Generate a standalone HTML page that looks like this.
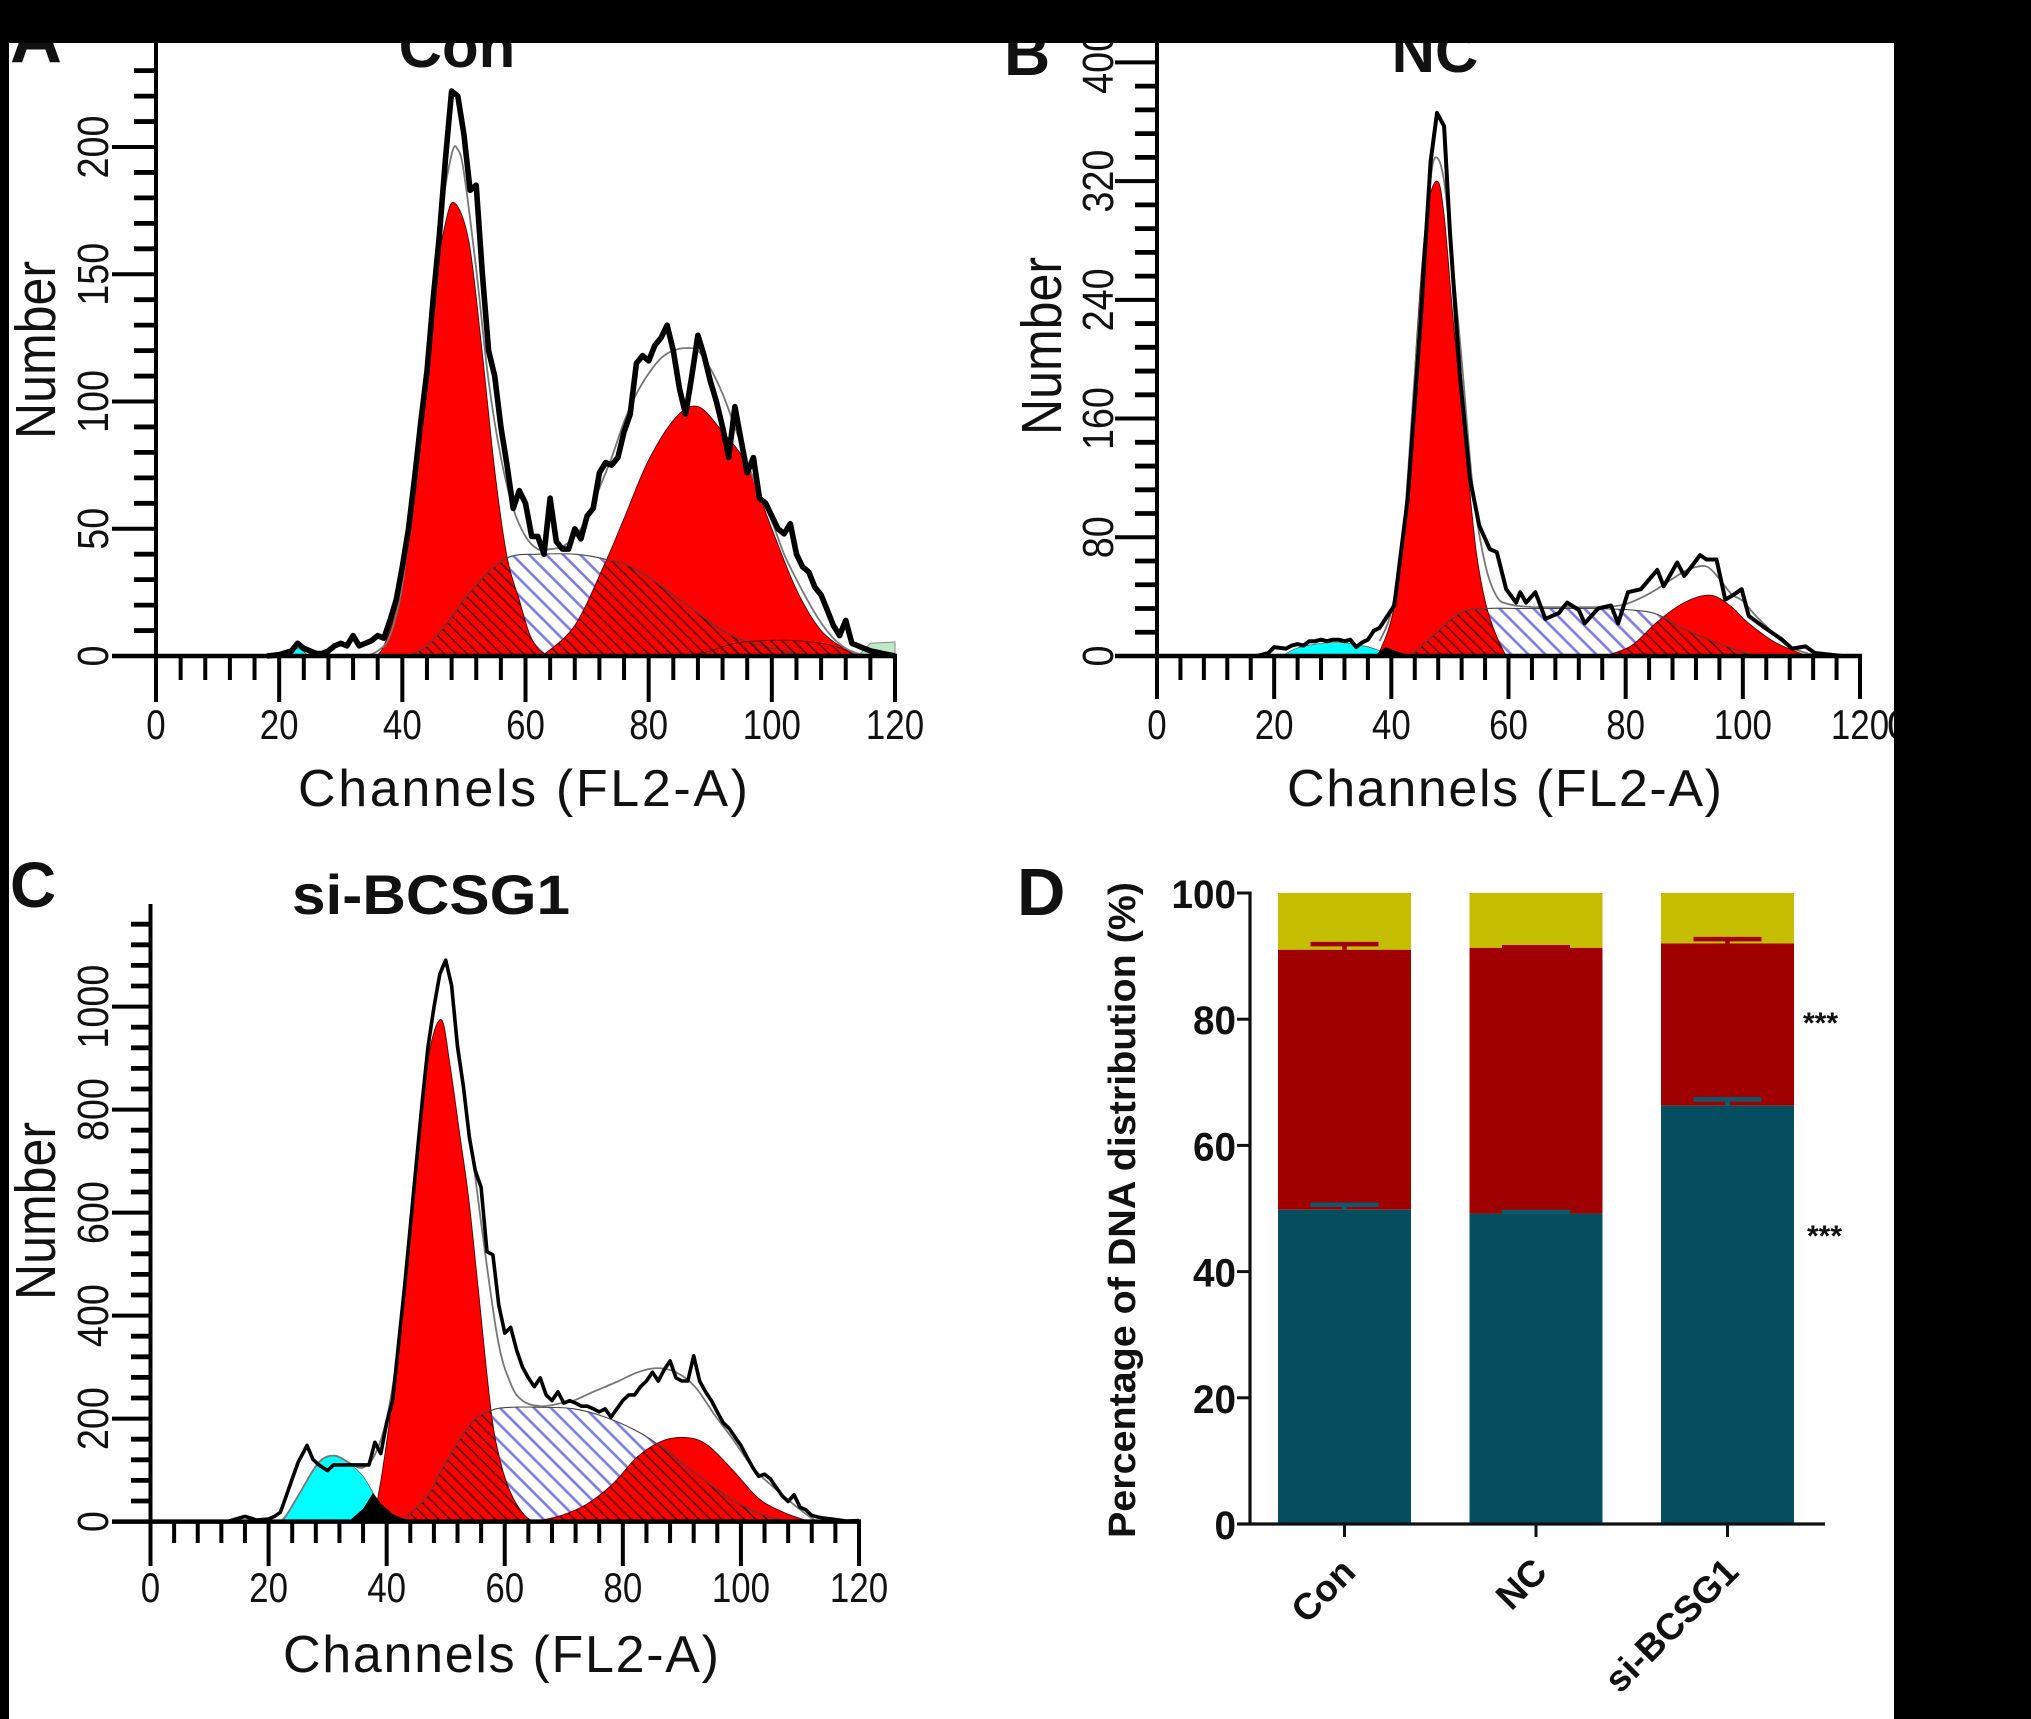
<!DOCTYPE html>
<html lang="en">
<head>
<meta charset="utf-8">
<title>DNA cell-cycle distribution figure</title>
<style>
html,body{margin:0;padding:0;background:#fff;}
svg{display:block;}
text{font-family:"Liberation Sans",sans-serif;fill:#111;}
</style>
</head>
<body>
<svg id="figure" xmlns="http://www.w3.org/2000/svg" width="2031" height="1719" viewBox="0 0 2031 1719">
  <defs>
    <pattern id="blueHatch" patternUnits="userSpaceOnUse" width="12" height="12" patternTransform="rotate(45)">
      <rect width="12" height="12" fill="#ffffff"/>
      <line x1="0" y1="6" x2="12" y2="6" stroke="#7b7be6" stroke-width="2.6"/>
    </pattern>
    <pattern id="darkHatch" patternUnits="userSpaceOnUse" width="8" height="8" patternTransform="rotate(45)">
      <line x1="0" y1="4" x2="8" y2="4" stroke="#5a0000" stroke-width="1.7"/>
    </pattern>
  </defs>
  <rect x="0" y="0" width="2031" height="1719" fill="#ffffff"/>
  <g id="panelA"></g>
  <g id="panelB"></g>
  <g id="panelC"></g>
  <g id="panelD"></g>
  <text x="10" y="62" font-size="72" font-weight="bold">A</text>
  <text x="457" y="67" font-size="60" font-weight="bold" text-anchor="middle">Con</text>
  <text x="1004" y="75" font-size="64" font-weight="bold">B</text>
  <text x="1435" y="72" font-size="60" font-weight="bold" text-anchor="middle">NC</text>
  <text x="10" y="907" font-size="64" font-weight="bold">C</text>
  <text x="292" y="914" font-size="56" font-weight="bold" textLength="278" lengthAdjust="spacingAndGlyphs">si-BCSG1</text>
  <text x="1017" y="915" font-size="67" font-weight="bold">D</text>
  <text x="1887" y="739" font-size="42">0</text>
  <rect x="0" y="0" width="2031" height="43" fill="#000"/>
  <rect x="0" y="0" width="9" height="1719" fill="#000"/>
  <rect x="1894" y="0" width="137" height="1719" fill="#000"/>
</svg>
<script>
// ---------- Panel A (Con) ----------
const conHistChannels = [18,20,22,23,24,25,26,27,28,29,30,31,32,33,34,35,36,37,38,39,40,41,42,43,44,45,46,47,48,49,50,51,52,53,54,55,56,57,58,59,60,61,62,63,64,65,66,67,68,69,70,71,72,73,74,75,76,77,78,79,80,81,82,83,84,85,86,87,88,89,90,91,92,93,94,95,96,97,98,99,100,101,102,103,104,105,106,107,108,109,110,111,112,113,114,115,116,118,120];
const conHistCounts = [0,0.5,2,5,3,2,1,1,2,4,5,4,8,4,5,6,8,7,14,22,35,50,70,92,112,140,165,195,222,220,205,183,185,150,120,110,90,75,58,65,60,47,47,40,62,45,42,42,50,46,55,58,72,76,75,78,88,95,115,118,116,122,125,130,120,105,95,110,126,118,108,100,90,78,98,85,72,78,62,60,55,50,48,52,40,35,33,27,24,18,12,8,14,5,4,3,2,1,0];
const conG1Channels = [35.7,37,39,42,45,47,48.5,50.8,52.8,55,57,59,60.6,62,63.7];
const conG1Counts = [0,4,20,68,140,170,178,163,123,73,39,22,9,3,0];
const conSChannels = [41,44,47,50,54,57.5,62,68,73,78,84,92,97,104,108];
const conSCounts = [0,4,12,22,33,39,40,40,38,34,24,10,5,1,0];
const conG2Channels = [62.7,68,73,76,80,84.5,88,91.7,96,100,104,108,112.4,114.5];
const conG2Counts = [0,12,37,54,77,94,98,89,75,50,26,10,2,0];
const conTailChannels = [86,90,94,98,104,110,114];
const conTailCounts = [0,2,5,6,6,4,0];
const conFitChannels = [34,36,38,40,42,44,46,48,49,50,52,54,56,58,60,62,64,66,68,70,72,74,76,78,80,82,84,86,88,90,92,94,96,98,100,102,104,106,108,110,112,114,116];
const conFitCounts = [0,2,8,28,68,118,168,197,199,190,152,108,78,58,47,42,42,43,47,54,66,78,92,103,111,117,120,121,120,113,103,90,76,64,53,40,30,21,13,7,3,1,0];
const conApoChannels = [21.5,23,25,27,28,29];
const conApoCounts = [0,3,0,0,1,0];
const conDebrisChannels = [114,116,120];
const conDebrisCounts = [0,5,5.5];
const conYTickLabels = [0,50,100,150,200];

// ---------- Panel B (NC) ----------
const ncHistChannels = [17,19,20,22,23,24,25,26,27,28,29,30,31,32,33,34,35,36,37,38,39,40.5,42.8,45,46.7,47.8,49,50,51.7,53.4,55,56.8,58,59.6,61.3,62,63,64.6,66.3,68.6,70,72,73,75.3,77.5,78.7,80.4,82.6,85.4,86.5,88.8,90,91,92.7,93.8,95.5,97,98.3,99.8,101,103.4,106.7,108.4,110.7,112.3,117];
const ncHistCounts = [0,2,6,5,7,8,7,10,10,11,10,11,11,10,11,6,9,11,17,19,25,34,106,225,333,366,357,286,189,120,88,72,70,45,36,43,36,43,25,29,36,31,22,32,34,22,43,45,58,47,63,54,59,68,65,65,38,41,45,27,20,11,5,6.5,2,0];
const ncG1Channels = [37.7,40.5,42.8,44.4,46,47.8,49,50.6,52.9,54.5,56.2,58,59.6];
const ncG1Counts = [0,34,117,218,297,320,297,225,131,70,34,13,0];
const ncSChannels = [43.3,47.2,51.7,56.2,63,74,81,85.4,90,95.5,102];
const ncSCounts = [0,14,29,32,32,32,31,28,18,9,0];
const ncG2Channels = [76.4,81,85.4,90,94.4,97.8,101,105.6,111];
const ncG2Counts = [0,7,23,36,41,34,22,9,0];
const ncFitChannels = [38,40,42,44,46,47,48,49,50,52,54,56,58,60,64,70,76,80,84,88,90,92,94,96,98,100,102,104,106,108,110,112,116];
const ncFitCounts = [10,30,80,190,290,330,335,320,285,200,110,62,40,35,33,33,33,35,42,52,57,60,60,52,42,37,28,20,12,6,3,1,0];
const ncApoChannels = [21.4,23.7,27,31.5,35,37.7,39.4];
const ncApoCounts = [0,5,8,9,7,4,0];
const ncOverlapChannels = [37,39,41,43.5];
const ncOverlapCounts = [0,6,3,0];
const ncYTickLabels = [0,80,160,240,320,400];

// ---------- Panel C (si-BCSG1) ----------
const siHistChannels = [13,16,18,20,21,22,23,24,25,26.5,27.5,28.5,30,31,32,34,36,37,38,39,40,41,42,43,44,45,46,47,48,49,50,51,52,53,54,55,56,57,58,59,60,61,62,63,64,65,66,67,68,69,70,71,72,73,74,75,76,77,78,79,80,81,82,83,84,85,86,87,88,89,90,91,92,93,94,95,96,97,98,99,100,101,102,103,104,105,106,107,108,109,110,111,112,113,114,116,118,120];
const siHistCounts = [0,10,3,5,10,18,50,83,115,148,121,110,99,110,110,110,110,110,154,132,192,235,344,453,573,693,813,922,998,1063,1090,1041,922,845,747,682,649,524,518,420,366,377,333,300,279,262,279,246,235,252,230,235,230,224,224,219,213,219,203,219,235,246,246,262,273,290,273,295,312,279,273,273,322,273,252,235,213,192,181,164,148,126,105,88,92,83,66,50,39,52,28,23,12,9,7,4,1,2];
const siG1Channels = [37.7,39.3,41.5,43.6,45.8,47.4,49.3,50.7,52.3,53.9,55.5,57.7,59.3,61,63,64.7];
const siG1Counts = [0,99,290,529,780,922,974,889,758,627,453,213,115,56,17,0];
const siSChannels = [42.5,46.9,50,54.4,57.7,61,66.3,71.7,77,82.5,86.8,91,95.5,99.8,104,108.4];
const siSCounts = [0,50,115,192,216,222,222,219,203,175,143,105,66,34,12,0];
const siG2Channels = [65,69.6,73.9,78.2,82.5,86.8,91,94.4,98.7,103,107.4,111.7];
const siG2Counts = [0,12,34,72,126,157,163,148,99,45,17,0];
const siFitChannels = [21,22.6,25.3,28.5,31.2,34,36,38,40,42,44,46,48,49,50,51,52,54,56,58.8,61,63,66,69.6,71.7,75,79.3,82.5,85.8,89,92.2,95.5,98.7,102,105,109.5,112.8];
const siFitCounts = [0,6,56,115,128,112,105,130,200,340,560,800,1000,1065,1085,1040,940,760,580,355,268,235,224,230,235,252,273,290,298,290,262,208,159,105,72,28,0];
const siApoChannels = [21,22.6,25.3,28.5,31.2,34,36,37.7];
const siApoCounts = [0,6,56,115,128,110,88,56];
const siOverlapChannels = [33.5,36,37.7,39,41,43,44];
const siOverlapCounts = [0,25,56,35,15,5,0];
const siYTickLabels = [0,200,400,600,800,1000];

// ---------- Panel D (stacked bars) ----------
const barCategories = ['Con','NC','si-BCSG1'];
const g1Percent = [49.8,49.2,66.3];
const sPercent = [41.2,42.1,25.7];
const g2Percent = [9.0,8.7,8.0];
const g1Error = [0.8,0.25,1.0];
const sError = [0.9,0.1,0.7];
const barYTickLabels = [0,20,40,60,80,100];

const SVG_NS = 'http://www.w3.org/2000/svg';

function mk(tag, attrs, parent) {
  const el = document.createElementNS(SVG_NS, tag);
  for (const k in attrs) el.setAttribute(k, attrs[k]);
  parent.appendChild(el);
  return el;
}

function linePath(channels, counts, x, y) {
  return channels.map((c, i) => (i ? 'L' : 'M') + x(c).toFixed(1) + ' ' + y(counts[i]).toFixed(1)).join('');
}

function smoothPath(channels, counts, x, y) {
  const p = channels.map((c, i) => [x(c), y(counts[i])]);
  let d = 'M' + p[0][0].toFixed(1) + ' ' + p[0][1].toFixed(1);
  for (let i = 0; i < p.length - 1; i++) {
    const a = p[Math.max(i - 1, 0)], b = p[i], c = p[i + 1], e = p[Math.min(i + 2, p.length - 1)];
    const c1x = b[0] + (c[0] - a[0]) / 6, c1y = b[1] + (c[1] - a[1]) / 6;
    const c2x = c[0] - (e[0] - b[0]) / 6, c2y = c[1] - (e[1] - b[1]) / 6;
    d += 'C' + c1x.toFixed(1) + ' ' + c1y.toFixed(1) + ' ' + c2x.toFixed(1) + ' ' + c2y.toFixed(1) + ' ' + c[0].toFixed(1) + ' ' + c[1].toFixed(1);
  }
  return d;
}

function areaPath(channels, counts, x, y, baseY) {
  return smoothPath(channels, counts, x, y) + 'L' + x(channels[channels.length - 1]).toFixed(1) + ' ' + baseY + 'L' + x(channels[0]).toFixed(1) + ' ' + baseY + 'Z';
}

function drawCycle(g, o) {
  const x = c => o.x0 + (o.x120 - o.x0) * c / 120;
  const y = v => o.y0 - v * o.unit;
  const s = o.series;
  const clipId = o.id + 'Clip';

  if (s.apo) {
    const apo = mk('path', {d: areaPath(s.apo[0], s.apo[1], x, y, o.y0), fill: '#00ffff', stroke: '#555', 'stroke-width': 0.7}, g);
    
    
  }
  if (s.debris) {
    const deb = mk('path', {d: linePath(s.debris[0], s.debris[1], x, y) + 'L' + x(120) + ' ' + o.y0 + 'Z', fill: '#bfe8c8', stroke: '#888', 'stroke-width': 1}, g);
    
    
  }
  const sArea = areaPath(s.s[0], s.s[1], x, y, o.y0);
  const sPhase = mk('path', {d: sArea, fill: 'url(#blueHatch)', stroke: 'none'}, g);
  
  

  const g1D = areaPath(s.g1[0], s.g1[1], x, y, o.y0);
  const g2D = areaPath(s.g2[0], s.g2[1], x, y, o.y0);
  const g1 = mk('path', {d: g1D, fill: '#ff0000', stroke: '#5a0000', 'stroke-width': 0.9}, g);
  
  
  const g2 = mk('path', {d: g2D, fill: '#ff0000', stroke: '#5a0000', 'stroke-width': 0.9}, g);
  
  

  const clip = mk('clipPath', {id: clipId}, g);
  mk('path', {d: g1D}, clip);
  mk('path', {d: g2D}, clip);
  const overlap = mk('path', {d: sArea, fill: 'url(#darkHatch)', 'clip-path': 'url(#' + clipId + ')'}, g);
  
  
  const sLine = mk('path', {d: smoothPath(s.s[0], s.s[1], x, y), fill: 'none', stroke: '#444', 'stroke-width': 1.1}, g);
  
  

  if (s.tail) {
    const tail = mk('path', {d: areaPath(s.tail[0], s.tail[1], x, y, o.y0), fill: 'url(#darkHatch)', stroke: '#5a0000', 'stroke-width': 1}, g);
    
    
  }
  if (s.overlap) {
    const blk = mk('path', {d: linePath(s.overlap[0], s.overlap[1], x, y) + 'Z', fill: '#000'}, g);
    
    
  }
  const fit = mk('path', {d: smoothPath(s.fit[0], s.fit[1], x, y), fill: 'none', stroke: '#777', 'stroke-width': 1.8}, g);
  
  
  const hist = mk('path', {d: linePath(s.hist[0], s.hist[1], x, y), fill: 'none', stroke: '#000', 'stroke-width': o.histWidth, 'stroke-linejoin': 'round'}, g);
  
  

  // axes
  const yAxis = mk('line', {x1: o.x0, x2: o.x0, y1: o.axisTop, y2: o.xMajorEnd, stroke: '#000', 'stroke-width': 4}, g);
  
  
  const xAxis = mk('line', {x1: o.yMajorStart, x2: o.x120 + 2, y1: o.y0, y2: o.y0, stroke: '#000', 'stroke-width': 4.5}, g);
  
  

  for (let c = 0; c <= 120; c += 4) {
    const major = c % 20 === 0;
    const tick = mk('line', {x1: x(c), x2: x(c), y1: o.y0, y2: major ? o.xMajorEnd : o.xMinorEnd, stroke: '#000', 'stroke-width': 4}, g);
    
    
    if (major) {
      const lab = mk('text', {x: x(c), y: o.xLabelY, 'font-size': 42, 'text-anchor': 'middle', textLength: String(c).length * 19.4, lengthAdjust: 'spacingAndGlyphs'}, g);
      lab.textContent = c;
      
      
    }
  }
  const minorStep = o.yStep / 5;
  for (let v = 0; y(v) >= o.axisTop + 6; v += minorStep) {
    const major = o.yLabels.indexOf(v) >= 0;
    const tick = mk('line', {x1: major ? o.yMajorStart : o.yMinorStart, x2: o.x0, y1: y(v), y2: y(v), stroke: '#000', 'stroke-width': major ? 4 : 4.8}, g);
    
    
  }
  o.yLabels.forEach(v => {
    const lab = mk('text', {x: o.yLabelX, y: y(v), 'font-size': 44, 'text-anchor': 'middle', textLength: String(v).length * 21, lengthAdjust: 'spacingAndGlyphs', transform: 'rotate(-90 ' + o.yLabelX + ' ' + y(v) + ')'}, g);
    lab.textContent = v;
    
    
  });
  const yt = mk('text', {x: o.numberX, y: o.numberY, 'font-size': 57, 'text-anchor': 'middle', textLength: 178, lengthAdjust: 'spacingAndGlyphs', transform: 'rotate(-90 ' + o.numberX + ' ' + o.numberY + ')'}, g);
  yt.textContent = 'Number';
  
  
  const xt = mk('text', {x: o.chanX, y: o.chanY, 'font-size': 52, textLength: o.chanW, lengthAdjust: 'spacing'}, g);
  xt.textContent = 'Channels (FL2-A)';
  
  
}

drawCycle(document.getElementById('panelA'), {
  id: 'a', x0: 156, x120: 895, y0: 656, unit: 2.545, axisTop: 43, histWidth: 5.6,
  yStep: 50, yLabels: conYTickLabels, yMajorStart: 112, yMinorStart: 134, xMajorEnd: 702, xMinorEnd: 680,
  xLabelY: 739, yLabelX: 108, numberX: 55, numberY: 350, chanX: 298, chanY: 806, chanW: 450,
  series: {
    hist: [conHistChannels, conHistCounts], g1: [conG1Channels, conG1Counts], s: [conSChannels, conSCounts],
    g2: [conG2Channels, conG2Counts], tail: [conTailChannels, conTailCounts], fit: [conFitChannels, conFitCounts],
    apo: [conApoChannels, conApoCounts], debris: [conDebrisChannels, conDebrisCounts]
  }
});
drawCycle(document.getElementById('panelB'), {
  id: 'b', x0: 1157, x120: 1860, y0: 656, unit: 1.484, axisTop: 43, histWidth: 4,
  yStep: 80, yLabels: ncYTickLabels, yMajorStart: 1115, yMinorStart: 1135, xMajorEnd: 699, xMinorEnd: 680,
  xLabelY: 739, yLabelX: 1113, numberX: 1061, numberY: 346, chanX: 1287, chanY: 806, chanW: 435,
  series: {
    hist: [ncHistChannels, ncHistCounts], g1: [ncG1Channels, ncG1Counts], s: [ncSChannels, ncSCounts],
    g2: [ncG2Channels, ncG2Counts], fit: [ncFitChannels, ncFitCounts],
    apo: [ncApoChannels, ncApoCounts], overlap: [ncOverlapChannels, ncOverlapCounts]
  }
});
drawCycle(document.getElementById('panelC'), {
  id: 'c', x0: 150.5, x120: 859, y0: 1521.6, unit: 0.515, axisTop: 904, histWidth: 3.6,
  yStep: 200, yLabels: siYTickLabels, yMajorStart: 112, yMinorStart: 131, xMajorEnd: 1566, xMinorEnd: 1543,
  xLabelY: 1602, yLabelX: 108, numberX: 55, numberY: 1211, chanX: 283, chanY: 1672, chanW: 436,
  series: {
    hist: [siHistChannels, siHistCounts], g1: [siG1Channels, siG1Counts], s: [siSChannels, siSCounts],
    g2: [siG2Channels, siG2Counts], fit: [siFitChannels, siFitCounts],
    apo: [siApoChannels, siApoCounts], overlap: [siOverlapChannels, siOverlapCounts]
  }
});

// Panel D
(function () {
  const g = document.getElementById('panelD');
  const axisX = 1250, baseY = 1524, top = 893;
  const y = v => baseY - (baseY - top) * v / 100;
  const band = i => 1344.5 + i * 191.5;
  const barW = 133, capW = 68;
  barCategories.forEach((name, i) => {
    const cx = band(i);
    const left = cx - barW / 2;
    const a = g1Percent[i], b = a + sPercent[i], c = b + g2Percent[i];
    const g2Bar = mk('rect', {x: left, width: barW, y: y(c), height: y(b) - y(c), fill: '#c4bd00'}, g);
    
    
    const sBar = mk('rect', {x: left, width: barW, y: y(b), height: y(a) - y(b), fill: '#a00000'}, g);
    
    
    const g1Bar = mk('rect', {x: left, width: barW, y: y(a), height: baseY - y(a), fill: '#054e60'}, g);
    
    

    const sCap = mk('path', {d: 'M' + (cx - capW / 2) + ' ' + y(b + sError[i]) + 'H' + (cx + capW / 2) + 'M' + cx + ' ' + y(b + sError[i]) + 'V' + y(b), stroke: '#a00000', 'stroke-width': 4.5, fill: 'none'}, g);
    
    
    const g1Cap = mk('path', {d: 'M' + (cx - capW / 2) + ' ' + y(a + g1Error[i]) + 'H' + (cx + capW / 2) + 'M' + cx + ' ' + y(a + g1Error[i]) + 'V' + y(a), stroke: '#0a5a70', 'stroke-width': 4.5, fill: 'none'}, g);
    
    

    const tick = mk('line', {x1: cx, x2: cx, y1: baseY, y2: baseY + 13, stroke: '#111', 'stroke-width': 3}, g);
    
    
    const lx = cx + 13, ly = baseY + 50;
    const lab = mk('text', {x: lx, y: ly, 'font-size': 37, 'font-weight': 'bold', 'text-anchor': 'end', transform: 'rotate(-45 ' + lx + ' ' + ly + ')'}, g);
    lab.textContent = name;
    
    
  });
  const yAxis = mk('line', {x1: axisX, x2: axisX, y1: top - 1.5, y2: baseY + 1.5, stroke: '#111', 'stroke-width': 3.2}, g);
  
  
  const xAxis = mk('line', {x1: 1237, x2: 1825, y1: baseY, y2: baseY, stroke: '#111', 'stroke-width': 3.2}, g);
  
  
  barYTickLabels.forEach(v => {
    const tick = mk('line', {x1: 1237, x2: axisX, y1: y(v), y2: y(v), stroke: '#111', 'stroke-width': 3}, g);
    
    
    const lab = mk('text', {x: 1236, y: y(v) + 15, 'font-size': 40, 'font-weight': 'bold', 'text-anchor': 'end', textLength: String(v).length * 21.5, lengthAdjust: 'spacingAndGlyphs'}, g);
    lab.textContent = v;
    
    
  });
  const title = mk('text', {x: 1135, y: 1210, 'font-size': 38, 'font-weight': 'bold', 'text-anchor': 'middle', textLength: 656, lengthAdjust: 'spacingAndGlyphs', transform: 'rotate(-90 1135 1210)'}, g);
  title.textContent = 'Percentage of DNA distribution (%)';
  
  
  const star1 = mk('text', {x: 1803, y: 1033, 'font-size': 30, 'font-weight': 'bold', fill: '#333'}, g);
  star1.textContent = '***';
  
  
  const star2 = mk('text', {x: 1807, y: 1246, 'font-size': 30, 'font-weight': 'bold', fill: '#333'}, g);
  star2.textContent = '***';
  
  
})();
</script>
</body>
</html>
